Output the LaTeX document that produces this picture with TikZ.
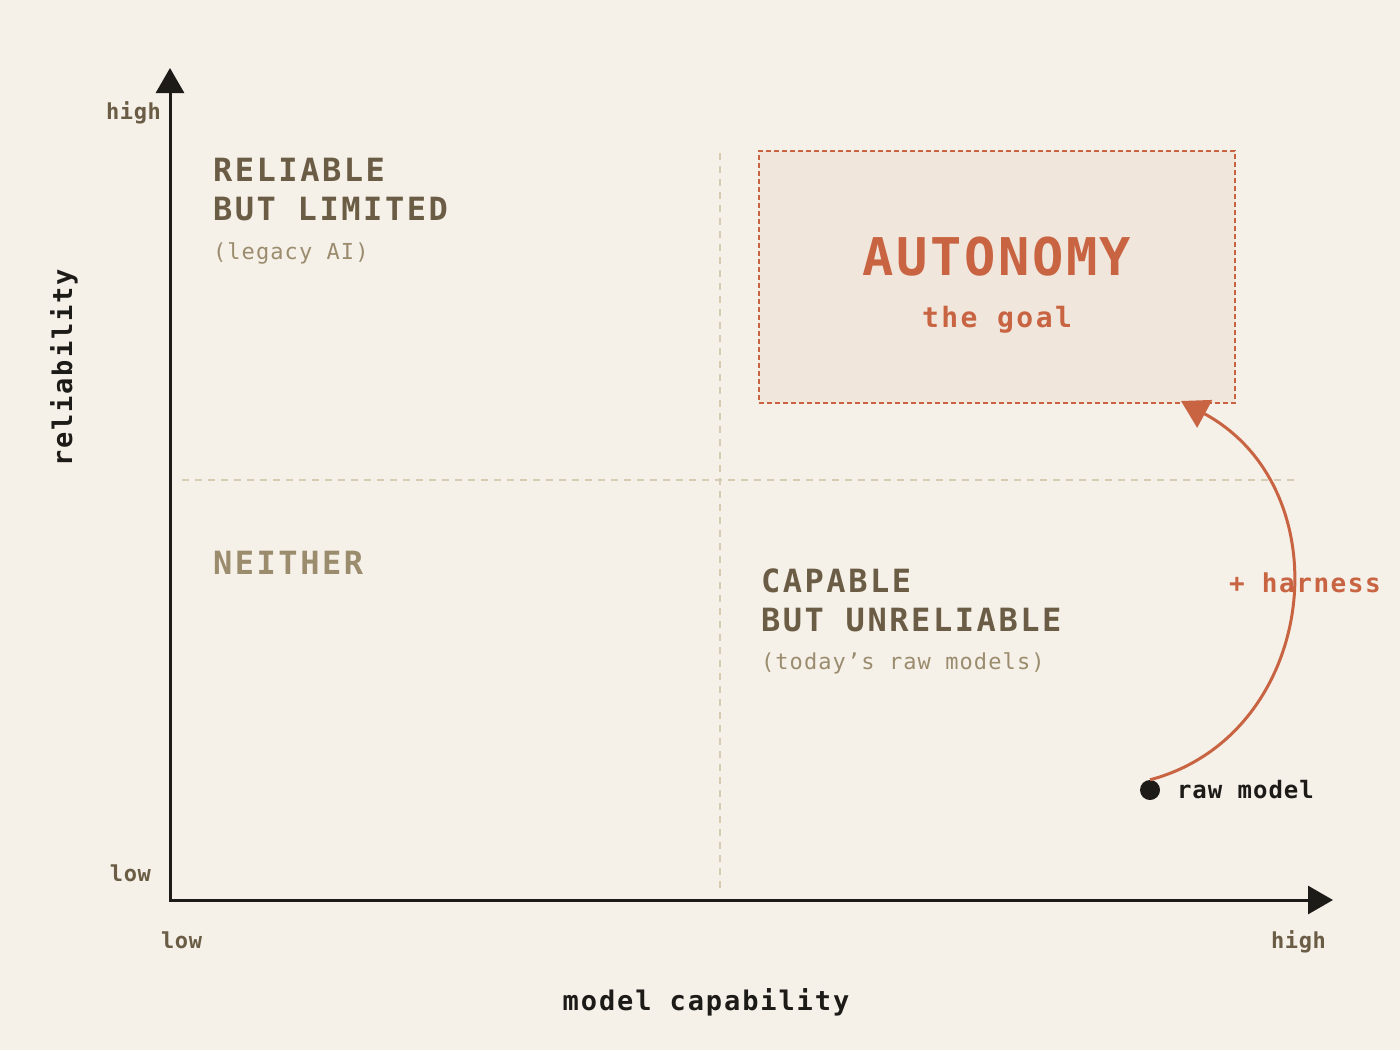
\documentclass[tikz,border=0pt]{standalone}
\usepackage{fontspec}
\setmainfont{DejaVu Sans Mono}
\usepackage{tikz}
\usepackage{xcolor}
\usetikzlibrary{arrows.meta}

\definecolor{paper}{HTML}{F5F0E8}
\definecolor{ink}{HTML}{1C1B17}
\definecolor{umber}{HTML}{6B5D45}
\definecolor{sand}{HTML}{9B8C6E}
\definecolor{rust}{HTML}{C86442}
\definecolor{blush}{HTML}{F1E6DC}
\definecolor{gridline}{HTML}{D6CCB4}

\newcommand{\spaced}[1]{\addfontfeature{LetterSpace=#1}}

\begin{document}
\begin{tikzpicture}[x=1pt, y=-1pt,
  txt/.style={inner sep=0pt, outer sep=0pt},
  quadtitle/.style={txt, align=left, anchor=base west, text=umber,
    font=\fontsize{32}{39}\selectfont\bfseries\spaced{8}},
  quadnote/.style={txt, anchor=base west, text=sand,
    font=\fontsize{22}{26}\selectfont\spaced{5}},
  tick/.style={txt, text=umber, font=\fontsize{22}{26}\selectfont\bfseries\spaced{3}},
  axislabel/.style={txt, anchor=base, text=ink,
    font=\fontsize{27}{32}\selectfont\bfseries\spaced{7}},
  quadline/.style={gridline, line width=1.5pt, dash pattern=on 7pt off 6pt}]

\fill[paper] (0,0) rectangle (1400,1050);
\useasboundingbox (0,0) rectangle (1400,1050);

\draw[quadline] (182,480) -- (1297,480);
\draw[quadline] (720,153) -- (720,888);

\coordinate (ytop) at (170,68);
\coordinate (origin) at (170,900);
\coordinate (xend) at (1333,900);
\draw[ink, line width=3pt, {Triangle[length=25pt,width=28pt]}-{Triangle[length=25pt,width=28pt]}]
  (ytop) -- (origin) -- (xend);

\node[tick, anchor=base east] (yhigh) at (161,119) {high};
\node[tick, anchor=base east] (ylow) at (151,881) {low};
\node[tick, anchor=base west] (xlow) at (161,948) {low};
\node[tick, anchor=base east] (xhigh) at (1326,948) {high};
\node[axislabel] (xname) at (706,1010) {model capability};
\node[axislabel, rotate=90] (yname) at (72,368) {reliability};

\node[quadtitle] (limited) at (213,220) {RELIABLE\\BUT LIMITED};
\node[quadnote] (legacy) at (213,259) {(legacy AI)};
\node[quadtitle, text=sand] (neither) at (213,574) {NEITHER};
\node[quadtitle] (unreliable) at (761,631) {CAPABLE\\BUT UNRELIABLE};
\node[quadnote] (today) at (761,669) {(today’s raw models)};

\node[draw=rust, fill=blush, line width=2pt, dash pattern=on 5pt off 3pt,
  minimum width=476pt, minimum height=252pt, inner sep=0pt] (goal) at (997,277) {};
\node[txt, anchor=base, text=rust, font=\fontsize{52}{60}\selectfont\bfseries\spaced{5}]
  (autonomy) at (997,275) {AUTONOMY};
\node[txt, anchor=base, text=rust, font=\fontsize{28}{32}\selectfont\bfseries\spaced{9}]
  (thegoal) at (997,327) {the goal};

\node[circle, fill=ink, inner sep=0pt, minimum size=20pt] (raw) at (1150,790) {};
\node[txt, anchor=base west, text=ink, font=\fontsize{24}{28}\selectfont\bfseries\spaced{4}]
  (rawlabel) at (1177,798) {raw model};

\coordinate (goalin) at (1181,401);
\draw[rust, line width=3pt, -{Triangle[length=27pt,width=31pt]}]
  (raw.north) .. controls (1318,735) and (1345,490) .. (goalin);
\node[txt, anchor=base west, text=rust, font=\fontsize{26}{30}\selectfont\bfseries\spaced{6}]
  (harness) at (1229,592) {+ harness};
\end{tikzpicture}
\end{document}
